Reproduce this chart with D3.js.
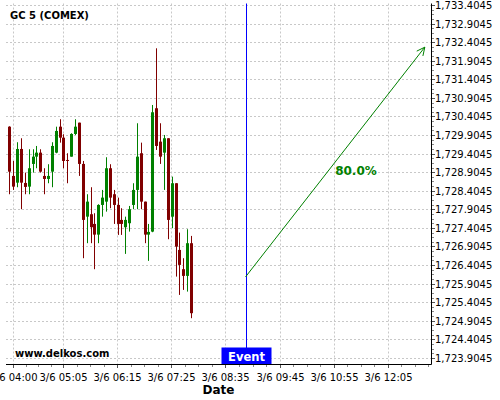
<!DOCTYPE html>
<html>
<head>
<meta charset="utf-8">
<script src="https://cdn.jsdelivr.net/npm/d3@7"></script>
<style>
  html, body { margin: 0; padding: 0; background: #fff; }
  svg { display: block; }
  text { font-family: "DejaVu Sans", sans-serif; }
</style>
</head>
<body>
<svg id="chart" width="500" height="400"></svg>
<script>
// ---- data ----
const title = "GC 5 (COMEX)";
const watermark = "www.delkos.com";
const times = ["03:56","04:01","04:06","04:11","04:16","04:21","04:26","04:31","04:36","04:41",
  "04:46","04:51","04:56","05:01","05:06","05:11","05:16","05:21","05:26","05:31",
  "05:36","05:41","05:46","05:51","05:56","06:01","06:06","06:11","06:16","06:21",
  "06:26","06:31","06:36","06:41","06:46","06:51","06:56","07:01","07:06","07:11",
  "07:16","07:21","07:26","07:31","07:36","07:41","07:46","07:51"];
const open  = [1730.129,1728.803,1728.622,1729.529,1728.614,1728.515,1729.126,1729.322,1729.430,1728.803,
  1728.722,1728.918,1729.430,1730.129,1729.833,1729.233,1729.322,1729.933,1730.237,1729.126,
  1727.707,1727.772,1727.511,1727.223,1728.022,1728.111,1729.010,1728.310,1728.022,1727.619,
  1727.422,1727.530,1728.022,1728.426,1729.414,1728.111,1727.223,1727.304,1730.625,1729.726,
  1729.430,1729.817,1727.707,1728.606,1726.811,1726.292,1726.112,1726.992];
const high  = [1730.140,1729.206,1729.710,1729.817,1728.892,1729.521,1729.521,1729.610,1729.521,1729.010,
  1729.118,1729.710,1730.129,1730.329,1729.925,1729.414,1729.952,1730.329,1730.237,1729.206,
  1728.310,1728.499,1727.799,1728.041,1728.426,1729.306,1729.118,1728.426,1728.219,1727.934,
  1727.707,1727.995,1728.606,1730.221,1729.699,1728.111,1727.511,1730.713,1732.239,1730.221,
  1729.906,1729.817,1728.784,1728.606,1727.277,1726.588,1727.368,1727.188];
const low   = [1728.310,1728.426,1728.499,1727.907,1728.310,1728.310,1728.892,1729.010,1728.892,1728.310,
  1728.606,1728.499,1729.414,1729.699,1729.010,1728.606,1729.322,1729.906,1728.803,1726.588,
  1726.992,1726.992,1726.292,1726.992,1727.707,1727.842,1727.934,1727.511,1727.215,1727.215,
  1726.704,1727.304,1727.907,1727.907,1727.907,1726.992,1726.516,1727.288,1729.502,1729.126,
  1728.426,1727.099,1727.395,1726.093,1725.600,1725.735,1725.689,1724.973];
const close = [1728.918,1728.515,1729.529,1728.622,1728.507,1729.010,1729.322,1729.430,1728.918,1728.722,
  1728.803,1729.610,1730.014,1729.833,1729.206,1729.214,1729.933,1730.129,1729.126,1727.619,
  1728.111,1727.422,1727.223,1728.022,1728.219,1729.010,1728.219,1728.022,1727.511,1727.511,
  1727.619,1727.907,1728.426,1729.322,1728.111,1727.223,1727.296,1730.517,1729.610,1729.322,
  1729.817,1727.619,1728.606,1726.900,1726.408,1726.112,1726.992,1725.108];

const xTickLabels = ["04:00","05:05","06:15","07:25","08:35","09:45","10:55","12:05"];
const yTicks = [1723.9045,1724.4045,1724.9045,1725.4045,1725.9045,1726.4045,1726.9045,1727.4045,
  1727.9045,1728.4045,1728.9045,1729.4045,1729.9045,1730.4045,1730.9045,1731.4045,1731.9045,
  1732.4045,1732.9045,1733.4045];
const xDomain = ["03:51","13:01"];
const yDomain = [1723.74, 1733.445];

const eventTime = "09:01";
const eventLabel = "Event";
const arrowStart = {time: "09:01", value: 1726.085};
const arrowEnd = {time: "12:53", value: 1732.27};
const arrowLabel = "80.0%";
const arrowLabelAt = {time: "10:57", value: 1728.82};
const xTitle = "Date";

// ---- helpers ----
const toDate = s => { const [h, m] = s.split(":").map(Number); return new Date(2020, 2, 6, h, m); };
const candles = times.map((t, i) => ({t: toDate(t), o: open[i], h: high[i], l: low[i], c: close[i]}));

const W = 500, H = 400;
const plot = {left: 6, right: 431, top: 3.5, bottom: 364};
const svg = d3.select("#chart");
svg.append("rect").attr("width", W).attr("height", H).attr("fill", "#fff");

const x = d3.scaleTime().domain(xDomain.map(toDate)).range([plot.left, plot.right]);
const y = d3.scaleLinear().domain(yDomain).range([plot.bottom, plot.top]);

const xTicks = xTickLabels.map(toDate);
const fmtX = d3.timeFormat("%-m/%-d %H:%M");
const fmtY = d3.format(",.4f");

// grid
const grid = svg.append("g").attr("stroke", "#c8c8c8").attr("stroke-width", 1).attr("stroke-dasharray", "2,2");
yTicks.forEach(v => {
  const yy = Math.round(y(v)) + 0.5;
  grid.append("line").attr("x1", plot.left).attr("x2", plot.right).attr("y1", yy).attr("y2", yy);
});
xTicks.forEach(d => {
  const xx = Math.round(x(d)) + 0.5;
  grid.append("line").attr("x1", xx).attr("x2", xx).attr("y1", plot.top).attr("y2", plot.bottom);
});

// candles
const cg = svg.append("g");
candles.forEach(d => {
  const col = d.c >= d.o ? "#008000" : "#800000";
  const L = Math.round(x(d.t) - 1.5);
  cg.append("line").attr("x1", L + 1.5).attr("x2", L + 1.5)
    .attr("y1", y(d.h)).attr("y2", y(d.l)).attr("stroke", col).attr("stroke-width", 1);
  const top = y(Math.max(d.o, d.c)), bot = y(Math.min(d.o, d.c));
  cg.append("rect").attr("x", L).attr("width", 3)
    .attr("y", top).attr("height", Math.max(1, bot - top)).attr("fill", col);
});

// watermark
svg.append("text").attr("x", 15).attr("y", 357).attr("font-size", 10).attr("font-weight", "bold")
  .attr("fill", "#000").text(watermark);

// title
svg.append("text").attr("x", 10).attr("y", 19).attr("font-size", 10).attr("font-weight", "bold")
  .attr("fill", "#000").text(title);

// event line & box
const ex = Math.round(x(toDate(eventTime))) + 0.5;
svg.append("line").attr("x1", ex).attr("x2", ex).attr("y1", plot.top).attr("y2", 348)
  .attr("stroke", "#0000ff").attr("stroke-width", 1);
svg.append("rect").attr("x", ex - 25).attr("y", 347.5).attr("width", 50).attr("height", plot.bottom - 347.5)
  .attr("fill", "#0000ff");
svg.append("text").attr("x", ex).attr("y", 360.5).attr("text-anchor", "middle")
  .attr("font-size", 11.5).attr("font-weight", "bold").attr("fill", "#fff").text(eventLabel);

// arrow
const ax1 = x(toDate(arrowStart.time)), ay1 = y(arrowStart.value);
const ax2 = x(toDate(arrowEnd.time)), ay2 = y(arrowEnd.value);
const green = "#008000";
svg.append("line").attr("x1", ax1).attr("y1", ay1).attr("x2", ax2).attr("y2", ay2)
  .attr("stroke", green).attr("stroke-width", 1);
const ang = Math.atan2(ay2 - ay1, ax2 - ax1);
[-0.45, 0.45].forEach(da => {
  const a = ang + Math.PI + da;
  svg.append("line").attr("x1", ax2).attr("y1", ay2)
    .attr("x2", ax2 + 9 * Math.cos(a)).attr("y2", ay2 + 9 * Math.sin(a))
    .attr("stroke", green).attr("stroke-width", 1);
});
svg.append("text").attr("x", x(toDate(arrowLabelAt.time))).attr("y", y(arrowLabelAt.value))
  .attr("font-size", 12).attr("font-weight", "bold").attr("fill", green).text(arrowLabel);

// axes
const axes = svg.append("g").attr("stroke", "#000").attr("stroke-width", 1);
axes.append("line").attr("x1", plot.left).attr("x2", plot.right + 0.5)
  .attr("y1", plot.bottom + 0.5).attr("y2", plot.bottom + 0.5);
axes.append("line").attr("x1", plot.right + 0.5).attr("x2", plot.right + 0.5)
  .attr("y1", plot.top).attr("y2", plot.bottom + 0.5);

// x ticks major + minor
const tickCol = "#888";
const xMinor = [];
for (let i = 0; i < xTicks.length; i++) {
  const a = +xTicks[i], b = (i + 1 < xTicks.length) ? +xTicks[i + 1] : a + 70 * 60000;
  for (let k = 1; k < 4; k++) xMinor.push(new Date(a + (b - a) * k / 4));
}
xMinor.filter(d => x(d) <= plot.right).forEach(d => {
  const xx = Math.round(x(d)) + 0.5;
  svg.append("line").attr("x1", xx).attr("x2", xx).attr("y1", plot.bottom + 1).attr("y2", plot.bottom + 3)
    .attr("stroke", tickCol);
});
xTicks.forEach(d => {
  const xx = Math.round(x(d)) + 0.5;
  svg.append("line").attr("x1", xx).attr("x2", xx).attr("y1", plot.bottom + 1).attr("y2", plot.bottom + 4)
    .attr("stroke", "#555");
  svg.append("text").attr("x", xx).attr("y", 381).attr("text-anchor", "middle")
    .attr("font-size", 10).attr("fill", "#000").text(fmtX(d));
});

// y ticks major + minor
for (let i = 0; i < yTicks.length; i++) {
  for (let k = 1; k < 4; k++) {
    const v = yTicks[i] + 0.5 * k / 4;
    if (y(v) < plot.top) continue;
    const yy = Math.round(y(v)) + 0.5;
    svg.append("line").attr("x1", plot.right + 1).attr("x2", plot.right + 3).attr("y1", yy).attr("y2", yy)
      .attr("stroke", tickCol);
  }
}
yTicks.forEach(v => {
  const yy = Math.round(y(v)) + 0.5;
  svg.append("line").attr("x1", plot.right + 1).attr("x2", plot.right + 4).attr("y1", yy).attr("y2", yy)
    .attr("stroke", "#555");
  svg.append("text").attr("x", 435).attr("y", yy).attr("dy", "0.36em")
    .attr("font-size", 10).attr("fill", "#000").text(fmtY(v));
});

// x title
svg.append("text").attr("x", (plot.left + plot.right) / 2).attr("y", 394).attr("text-anchor", "middle")
  .attr("font-size", 12).attr("font-weight", "bold").attr("fill", "#000").text(xTitle);
</script>
</body>
</html>
